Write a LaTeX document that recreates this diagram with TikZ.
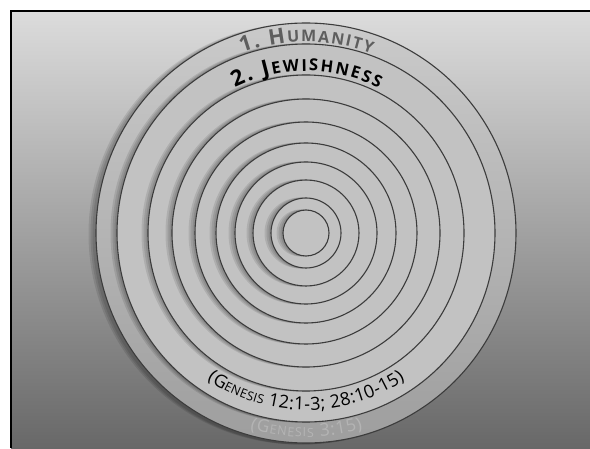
\documentclass[tikz,border=0pt]{standalone}
\usepackage{fontspec}
\setmainfont{Open Sans}
\usetikzlibrary{decorations.text}
\definecolor{bgtop}{HTML}{DCDCDC}
\definecolor{bgmid}{HTML}{AAAAAA}
\definecolor{bgbot}{HTML}{686868}
\definecolor{ringfill}{HTML}{C2C2C2}
\definecolor{humtop}{HTML}{CACACA}
\definecolor{humbot}{HTML}{9E9E9E}
\definecolor{ringline}{HTML}{3C3C3C}
\definecolor{humgray}{HTML}{5E5E5E}
\definecolor{gengray}{HTML}{B4B4B4}
\begin{document}
\begin{tikzpicture}[x=1pt,y=1pt,
  ring/.style={fill=ringfill, draw=ringline, line width=1.1pt},
  shadowdisc/.style={fill=black, opacity=0.1},
  arctext/.style={decorate, decoration={text along path, text align=center, #1}}]
\useasboundingbox (0,0) rectangle (590,448);
\fill[white] (0,0) rectangle (590,448);
\shade[top color=bgtop, middle color=bgmid, bottom color=bgbot] (11,0) rectangle (590,437);
\draw[line width=2.5pt] (11,0) -- (11,437) -- (590,437);
\coordinate (c) at (306,215);
% outer disc (Humanity)
\foreach \k in {7,5,3} {
  \fill[shadowdisc] ([xshift=-\k pt, yshift=-1pt]c) circle (210.5);
}
\shade[top color=humtop, bottom color=humbot] (c) circle (210);
\draw[ringline, line width=1.1pt] (c) circle (210);
% inner discs
\foreach \r in {189,158,134,111,90,71,53,35,23} {
  \foreach \k in {6,4,2} {
    \fill[shadowdisc] ([xshift=-\k pt]c) circle ({\r+0.5});
  }
  \filldraw[ring] (c) circle (\r);
}
% texts
\path[shift={(c)}, arctext={text color=humgray, text={|\fontsize{21.5}{22}\selectfont\bfseries\kern1.6pt|1. H|\fontsize{16}{16}\selectfont\bfseries\kern1.6pt|UMANITY}}]
  (160:191) arc[start angle=160, end angle=20, radius=191];
\path[shift={(c)}, arctext={text color=black, text={|\fontsize{22}{22}\selectfont\bfseries\kern2pt|2. J|\fontsize{16.5}{17}\selectfont\bfseries\kern2pt|EWISHNESS}}]
  (160:162) arc[start angle=160, end angle=20, radius=162];
\path[shift={(c)}, arctext={text color=black, text={|\fontsize{18}{18}\selectfont\kern0.3pt|(G|\fontsize{12.5}{13}\selectfont\kern0.3pt|ENESIS|\fontsize{18}{18}\selectfont\kern0.3pt| 12:1-3; 28:10-15)}}]
  (200:177) arc[start angle=200, end angle=340, radius=177];
\path[shift={(c)}, arctext={text color=gengray, text={|\fontsize{17.5}{18}\selectfont\kern0.9pt|(G|\fontsize{12.5}{13}\selectfont\kern0.9pt|ENESIS|\fontsize{17.5}{18}\selectfont\kern0.9pt| 3:15)}}]
  (215:204) arc[start angle=215, end angle=325, radius=204];
\end{tikzpicture}
\end{document}
